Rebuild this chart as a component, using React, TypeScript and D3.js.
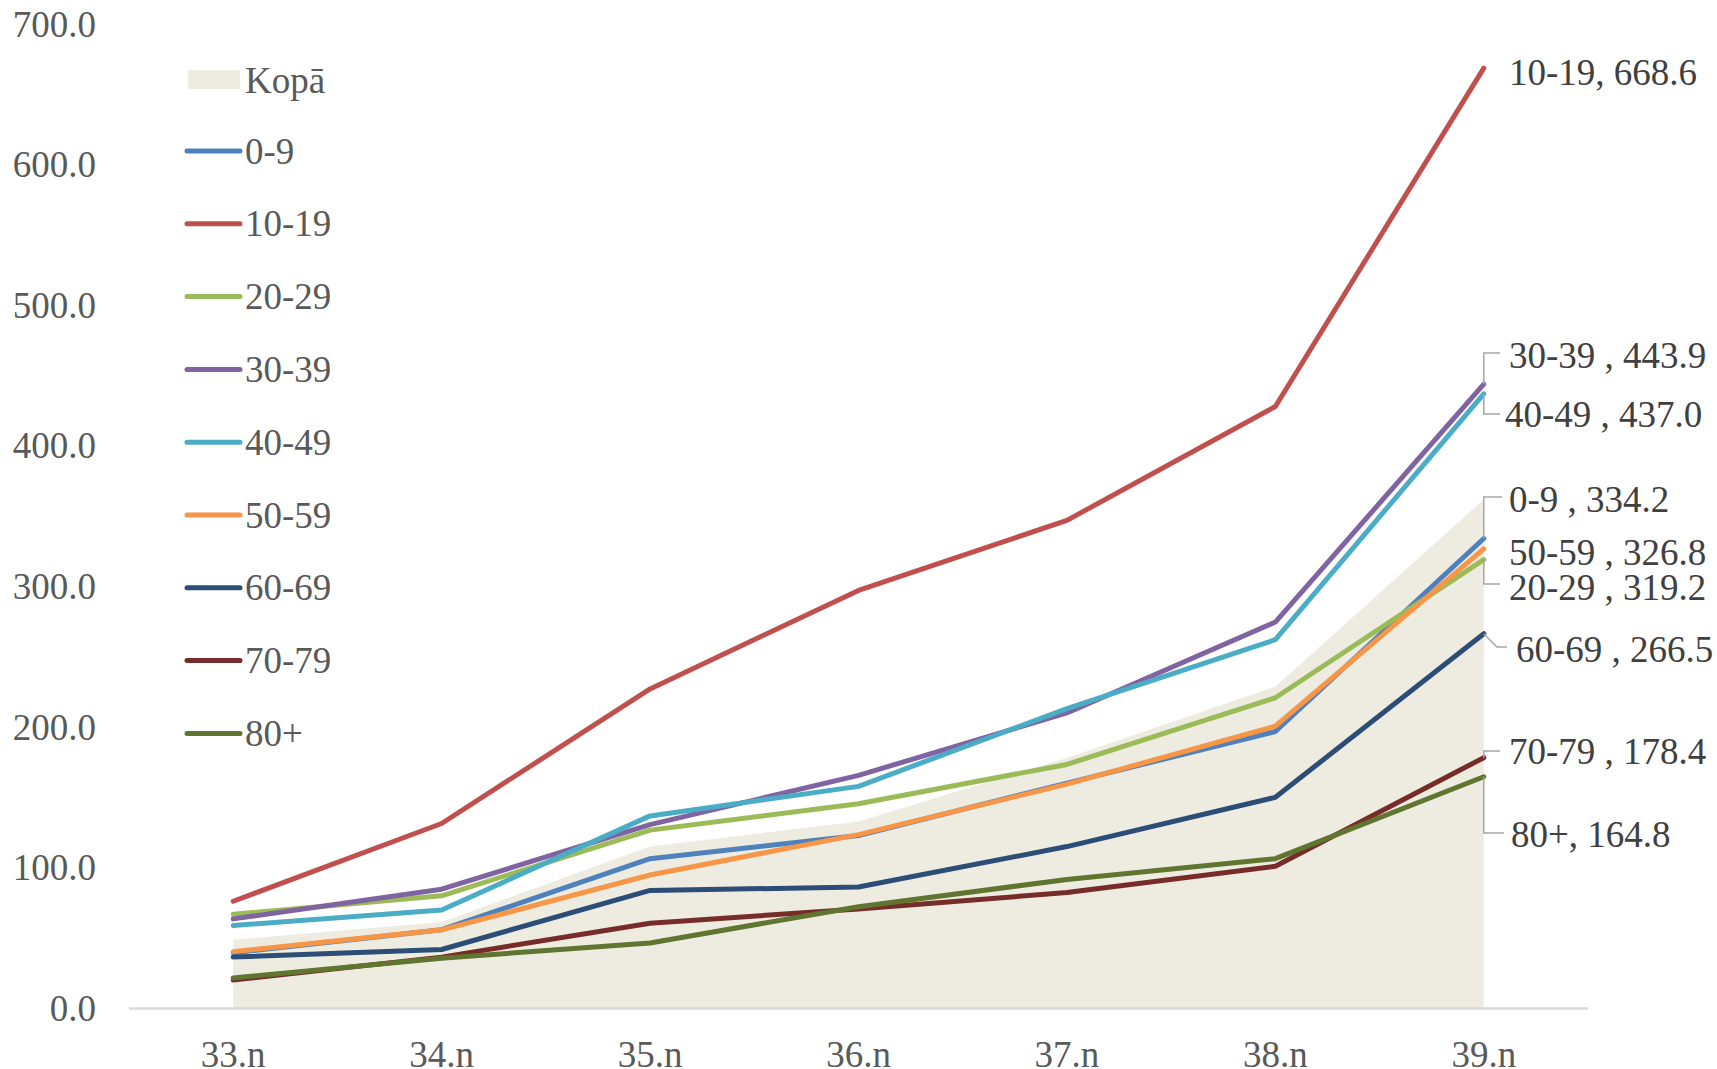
import React from "react";
import * as d3 from "d3";

const categories = ["33.n", "34.n", "35.n", "36.n", "37.n", "38.n", "39.n"];
const totalKopa = [49, 61.5, 115.2, 133, 178.2, 228.9, 362];
const seriesNames = ["0-9", "10-19", "20-29", "30-39", "40-49", "50-59", "60-69", "70-79", "80+"];
const s0_9 = [39.7, 56.1, 106.6, 123, 160.3, 197, 334.2];
const s10_19 = [76.3, 131.6, 227.3, 297.3, 347.1, 428.1, 668.6];
const s20_29 = [67, 80.2, 126.9, 145.6, 173.6, 221, 319.2];
const s30_39 = [63.8, 84.9, 130.8, 165.8, 210.2, 274.8, 443.9];
const s40_49 = [59.1, 70.1, 137, 158, 213.3, 262.3, 437.0];
const s50_59 = [40.5, 56, 95, 123.7, 159.6, 200.8, 326.8];
const s60_69 = [36.6, 42, 84, 86.4, 115.2, 150.2, 266.5];
const s70_79 = [20.3, 36.6, 60.7, 70.8, 82.5, 101.2, 178.4];
const s80 = [21.8, 35.8, 46.7, 72.4, 91.8, 106.6, 164.8];
const yTicks = [0, 100, 200, 300, 400, 500, 600, 700];
const endLabels = [
  "0-9 , 334.2",
  "10-19, 668.6",
  "20-29 , 319.2",
  "30-39 , 443.9",
  "40-49 , 437.0",
  "50-59 , 326.8",
  "60-69 , 266.5",
  "70-79 , 178.4",
  "80+, 164.8",
];

const seriesValues = [s0_9, s10_19, s20_29, s30_39, s40_49, s50_59, s60_69, s70_79, s80];
const colors = ["#4F81BD", "#C0504D", "#9BBB59", "#8064A2", "#4BACC6", "#F79646", "#2C4D75", "#772C2A", "#5F7530"];

// label layout: [labelX, labelY(center), leader path points relative]
const labelPos: { x: number; y: number; leader: [number, number][] | null }[] = [
  { x: 1509, y: 499, leader: [[0, 0], [0, 497], [1502, 497]] },
  { x: 1509, y: 72, leader: null },
  { x: 1509, y: 587, leader: [[0, 0], [0, 584], [1500, 584]] },
  { x: 1509, y: 355, leader: [[0, 0], [0, 353], [1500, 353]] },
  { x: 1505, y: 414, leader: [[0, 0], [0, 414], [1500, 414]] },
  { x: 1509, y: 552, leader: null },
  { x: 1516, y: 649, leader: [[0, 0], [1497, 647], [1507, 647]] },
  { x: 1509, y: 751, leader: [[0, 0], [0, 751], [1500, 751]] },
  { x: 1511, y: 834, leader: [[0, 0], [0, 833], [1504, 833]] },
];

export default function App() {
  const W = 1717;
  const H = 1069;
  const x = d3.scaleBand<string>().domain(categories).range([129, 1588]).padding(0);
  const cx = (c: string) => (x(c) as number) + x.bandwidth() / 2;
  const y = d3.scaleLinear().domain([0, 700]).range([1008.6, 24]);
  const font = "'Liberation Serif', 'Times New Roman', serif";

  const area = d3
    .area<number>()
    .x((_, i) => cx(categories[i]))
    .y0(y(0))
    .y1((d) => y(d));
  const line = d3
    .line<number>()
    .x((_, i) => cx(categories[i]))
    .y((d) => y(d));

  const lastX = cx(categories[categories.length - 1]);

  return (
    <svg width={W} height={H} style={{ position: "absolute", left: 0, top: 0, background: "#fff" }}>
      <path d={area(totalKopa) || ""} fill="#EEECE1" />
      <line x1={129} x2={1588} y1={y(0)} y2={y(0)} stroke="#D9D9D9" strokeWidth={2.5} />
      {yTicks.map((t) => (
        <text key={t} x={96} y={y(t)} textAnchor="end" dominantBaseline="central" fontFamily={font} fontSize={37} fill="#595959">
          {t.toFixed(1)}
        </text>
      ))}
      {categories.map((c) => (
        <text key={c} x={cx(c)} y={1054} textAnchor="middle" dominantBaseline="central" fontFamily={font} fontSize={37} fill="#595959">
          {c}
        </text>
      ))}
      {seriesValues.map((vals, i) => (
        <path key={i} d={line(vals) || ""} fill="none" stroke={colors[i]} strokeWidth={5} strokeLinejoin="round" strokeLinecap="round" />
      ))}
      {seriesValues.map((vals, i) => {
        const lp = labelPos[i];
        const py = y(vals[vals.length - 1]);
        let leader = null;
        if (lp.leader) {
          const pts = lp.leader.map(([px, pyy], k) => (k === 0 ? [lastX, py] : [px === 0 ? lastX : px, pyy]));
          leader = (
            <polyline points={pts.map((p) => p.join(",")).join(" ")} fill="none" stroke="#A6A6A6" strokeWidth={1.5} />
          );
        }
        return (
          <g key={"l" + i}>
            {leader}
            <text x={lp.x} y={lp.y} dominantBaseline="central" fontFamily={font} fontSize={37} fill="#404040">
              {endLabels[i]}
            </text>
          </g>
        );
      })}
      {/* legend */}
      <g>
        <rect x={188} y={70} width={52} height={19} fill="#EEECE1" />
        <text x={245} y={80} dominantBaseline="central" fontFamily={font} fontSize={37} fill="#595959">
          Kopā
        </text>
        {seriesNames.map((n, i) => {
          const ly = 151 + i * 72.8;
          return (
            <g key={n}>
              <line x1={187} x2={240} y1={ly} y2={ly} stroke={colors[i]} strokeWidth={5} strokeLinecap="round" />
              <text x={245} y={ly} dominantBaseline="central" fontFamily={font} fontSize={37} fill="#595959">
                {n}
              </text>
            </g>
          );
        })}
      </g>
    </svg>
  );
}
